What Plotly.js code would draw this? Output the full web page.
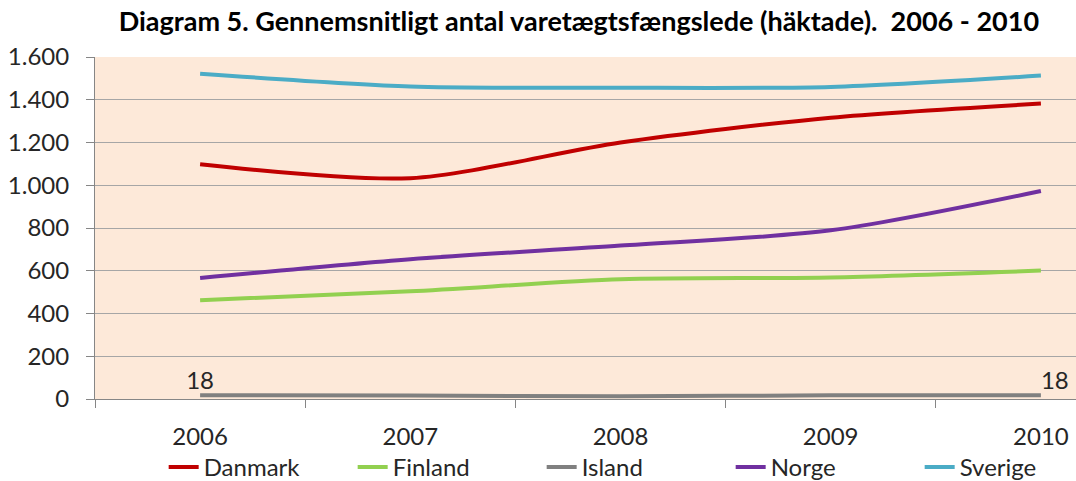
<!DOCTYPE html>
<html><head><meta charset="utf-8">
<script src="https://cdn.plot.ly/plotly-3.0.1.min.js"></script>
<style>html,body{margin:0;padding:0;background:#fff}#chart{width:1076px;height:481px}</style>
</head><body><div id="chart"></div>
<script>
const years = ["2006","2007","2008","2009","2010"];
const danmark = [1098, 1033, 1200, 1316, 1382];
const finland = [462, 504, 560, 569, 601];
const island = [18, 16, 13, 17, 18];
const norge = [566, 654, 718, 789, 973];
const sverige = [1522, 1462, 1456, 1460, 1513];
const islandLabels = ["18", "", "", "", "18"];
const yTicks = [0, 200, 400, 600, 800, 1000, 1200, 1400, 1600];

const FONT = "Lato, 'Open Sans', sans-serif";
function tr(name, y, color, extra) {
  return Object.assign({
    type: "scatter", mode: "lines", name: name, x: years, y: y,
    line: {color: color, width: 4, shape: "spline", smoothing: 0.8},
    hoverinfo: "skip"
  }, extra || {});
}
const data = [
  tr("Danmark", danmark, "#c00000"),
  tr("Finland", finland, "#92d050"),
  tr("Island", island, "#808080", {mode: "lines+text", text: islandLabels,
     textposition: ["top center","top center","top center","top center","top right"],
     textfont: {family: FONT, size: 24, color: "#262626"}}),
  tr("Norge", norge, "#7030a0"),
  tr("Sverige", sverige, "#4bacc6")
];
const layout = {
  width: 1076, height: 481,
  margin: {l: 95, r: 0, t: 57, b: 82, autoexpand: false},
  paper_bgcolor: "#ffffff", plot_bgcolor: "#fde9d9",
  separators: ",.",
  font: {family: FONT, size: 24, color: "#262626"},
  title: {text: "<b>Diagram 5. Gennemsnitligt antal varetægtsfængslede (häktade).  2006 - 2010</b>",
          font: {family: FONT, size: 27, color: "#000"}, x: 0.538, xanchor: "center", y: 0.955, yanchor: "middle"},
  xaxis: {type: "category", range: [-0.5, 4.167], tickson: "boundaries", ticks: "outside", ticklen: 8,
          tickcolor: "#868686", showline: true, linecolor: "#868686", linewidth: 1, showgrid: false,
          zeroline: false, fixedrange: true, ticklabelstandoff: 16},
  yaxis: {range: [0, 1600], tickvals: yTicks, tickformat: ",d", ticks: "outside", ticklen: 8,
          tickcolor: "#868686", showline: true, linecolor: "#868686", linewidth: 1,
          showgrid: true, gridcolor: "#a6a6a6", gridwidth: 1, zeroline: false, ticklabelstandoff: 12},
  legend: {orientation: "h", x: 0.07, xanchor: "left", y: -0.2, yanchor: "middle",
           entrywidth: 144, entrywidthmode: "pixels",
           font: {family: FONT, size: 24, color: "#262626"}, bgcolor: "rgba(0,0,0,0)"},
  showlegend: true
};
Plotly.newPlot("chart", data, layout, {staticPlot: true, displayModeBar: false});
</script></body></html>
